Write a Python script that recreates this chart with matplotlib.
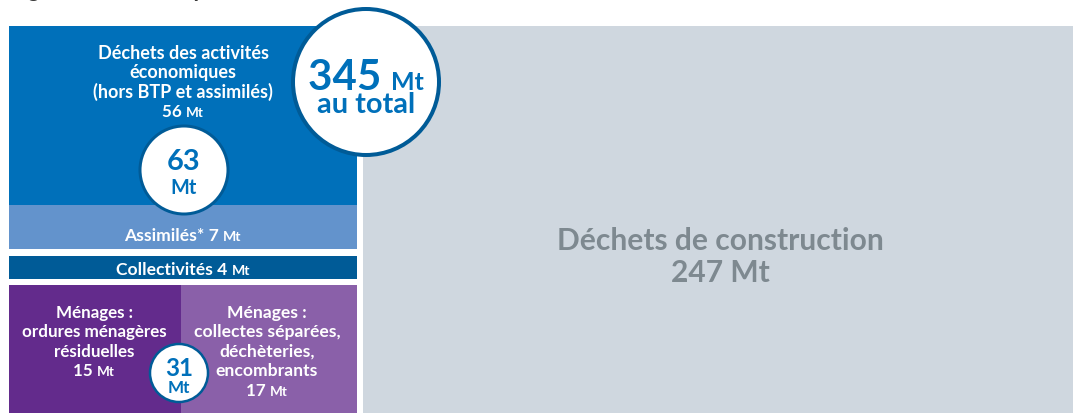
import matplotlib
matplotlib.use("Agg")
import matplotlib.pyplot as plt
from matplotlib.patches import Circle

# ---------------- data ----------------
labels = [
    ["Déchets des activités", "économiques", "(hors BTP et assimilés)"],
    ["Assimilés*"],
    ["Collectivités"],
    ["Ménages :", "ordures ménagères", "résiduelles"],
    ["Ménages :", "collectes séparées,", "déchèteries,", "encombrants"],
    ["Déchets de construction"],
]
values = [56, 7, 4, 15, 17, 247]
group_totals = [63, 31]
grand_total = 345
unit = "Mt"
total_caption = "au total"
title = "Figure 1 : Déchets produits en France"

# ---------------- style ----------------
colors = ["#0070BA", "#6393CC", "#005B97", "#632B8C", "#8A60A9", "#CFD7DF"]
text_colors = ["white", "white", "white", "white", "white", "#7E8990"]
ring_color = "#005B97"
num_color = "#0070BA"
FONT = "Lato"

W, H = 1073, 414
fig = plt.figure(figsize=(W / 100, H / 100), dpi=100)
ax = fig.add_axes([0, 0, 1, 1])
ax.set_xlim(0, W)
ax.set_ylim(H, 0)
ax.axis("off")
renderer = fig.canvas.get_renderer()

PT = 0.72  # px -> pt at dpi 100

# layout (pixel grid): x0, y0, width, height for each block
left_x, left_w = 9, 348
half_w = 172
layout = [
    (left_x, 27, left_w, 179),
    (left_x, 206, left_w, 44),
    (left_x, 257, left_w, 23),
    (left_x, 286, half_w, 128),
    (left_x + half_w, 286, left_w - half_w, 128),
    (363, 27, W - 363, 387),
]
for (x0, y0, w, h), c in zip(layout, colors):
    ax.bar(x0, h, width=w, bottom=y0, align="edge", color=c, linewidth=0)
ax.set_ylim(H, 0)


def mixed(x, y, parts, color, z=3):
    """parts: list of (text, px size); baseline at y, centered at x."""
    objs = []
    for t, s in parts:
        o = ax.text(0, y, t, fontsize=s * PT, fontweight="bold", family=FONT,
                    color=color, va="baseline", ha="left", zorder=z)
        objs.append(o)
    widths = [o.get_window_extent(renderer).width for o in objs]
    cur = x - sum(widths) / 2
    for o, w in zip(objs, widths):
        o.set_x(cur)
        cur += w


def lines(x, y0, step, txts, size, color):
    for i, t in enumerate(txts):
        ax.text(x, y0 + i * step, t, fontsize=size * PT, fontweight="bold",
                family=FONT, color=color, ha="center", va="baseline")
    return y0 + len(txts) * step


# title (cut off at top of the picture; only descenders show)
ax.text(10, -3, title, fontsize=22 * PT, fontweight="bold", family=FONT,
        color="#3A3A3A", ha="left", va="baseline")

# économiques block
yb = lines(183, 59, 19.3, labels[0], 18, text_colors[0])
mixed(183, yb, [(f"{values[0]} ", 17), (unit, 13.5)], text_colors[0])
# assimilés
mixed(183, 241, [(f"{labels[1][0]} {values[1]} ", 17.5), (unit, 14)], text_colors[1])
# collectivités
mixed(183, 275, [(f"{labels[2][0]} {values[2]} ", 17.5), (unit, 14)], text_colors[2])
# ménages left
yb = lines(94, 318, 19.5, labels[3], 17, text_colors[3])
mixed(94, yb, [(f"{values[3]} ", 17), (unit, 13.5)], text_colors[3])
# ménages right
yb = lines(267, 318, 19.5, labels[4], 17.5, text_colors[4])
mixed(267, yb, [(f"{values[4]} ", 17), (unit, 13.5)], text_colors[4])
# construction
ax.text(720, 250, labels[5][0], fontsize=30 * PT, fontweight="bold", family=FONT,
        color=text_colors[5], ha="center", va="baseline")
mixed(720, 282, [(f"{values[5]} {unit}", 30)], text_colors[5])

# circles
ax.add_patch(Circle((366, 83), 73, facecolor="white", edgecolor=ring_color, lw=4 * PT, zorder=5))
ax.add_patch(Circle((184, 171), 44, facecolor="white", edgecolor=ring_color, lw=3 * PT, zorder=5))
ax.add_patch(Circle((179, 374), 29, facecolor="white", edgecolor=ring_color, lw=2.5 * PT, zorder=5))

ncol = num_color
mixed(366, 90, [(f"{grand_total} ", 42), (unit, 25)], ncol, z=6)
mixed(366, 113, [(total_caption, 29)], ncol, z=6)
mixed(184, 170, [(f"{group_totals[0]}", 29)], ncol, z=6)
mixed(184, 194, [(unit, 20)], ncol, z=6)
mixed(179, 376, [(f"{group_totals[1]}", 24)], ncol, z=6)
mixed(179, 393, [(unit, 17)], ncol, z=6)

fig.savefig("out.png", dpi=100)
